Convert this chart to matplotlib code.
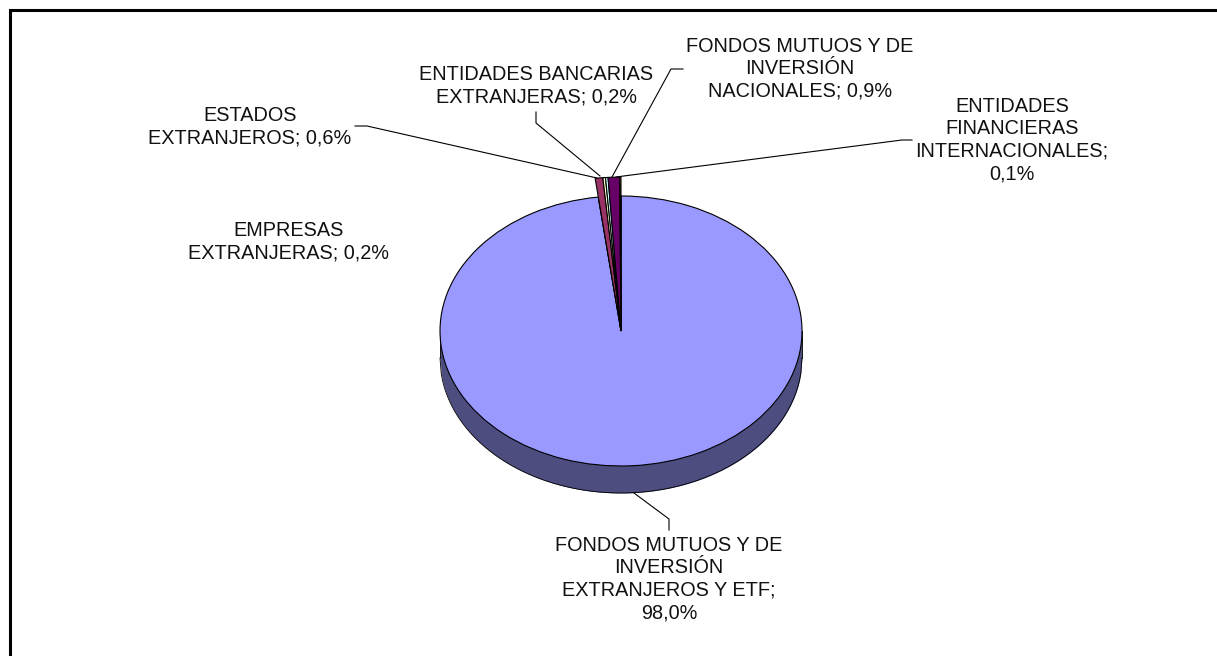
import numpy as np
import matplotlib.pyplot as plt

W, H = 1217, 656

# Data
values = [98.0, 0.6, 0.2, 0.2, 0.9, 0.1]
colors = ['#9999FF', '#993366', '#FFFFCC', '#CCFFFF', '#660066', '#FF8080']
side_color = '#4D4D80'
labels = [
    'FONDOS MUTUOS Y DE\nINVERSIÓN\nEXTRANJEROS Y ETF;\n98,0%',
    'ESTADOS\nEXTRANJEROS; 0,6%',
    'EMPRESAS\nEXTRANJERAS; 0,2%',
    'ENTIDADES BANCARIAS\nEXTRANJERAS; 0,2%',
    'FONDOS MUTUOS Y DE\nINVERSIÓN\nNACIONALES; 0,9%',
    'ENTIDADES\nFINANCIERAS\nINTERNACIONALES;\n0,1%',
]
label_pos = [(669, 579), (250, 127), (289, 242), (536, 86), (800, 69), (1012, 140)]
leaders = [
    [(634, 493), (669, 519), (669, 530)],
    [(355, 126), (367, 126), (597, 178)],
    None,
    [(536, 112), (536, 123), (600, 176)],
    [(683, 69), (671, 69), (612, 177)],
    [(912, 140), (902, 140), (616, 177)],
]

plt.rcParams['font.family'] = ['Liberation Sans', 'DejaVu Sans']

fig = plt.figure(figsize=(W / 100, H / 100), dpi=100, facecolor='white')

# Pie geometry in pixels
cx, cy, rx, ry, depth = 621, 331, 181, 135, 27
ax = fig.add_axes([(cx - 1.25 * rx) / W, 1 - (cy + 1.25 * ry) / H, 2.5 * rx / W, 2.5 * ry / H])
edge = {'edgecolor': 'black', 'linewidth': 0.8}
drop = depth / ry

# Top face
ax.pie(values, colors=colors, startangle=90, counterclock=False, wedgeprops=edge)

# Thin slices stand above the disc
small, _ = ax.pie(values, colors=colors, startangle=90, counterclock=False,
                  radius=1.14, wedgeprops=edge)
small[0].set_visible(False)

# Side of the disc
xs = np.linspace(-1, 1, 300)
low = -drop - np.sqrt(1 - xs ** 2)
ax.fill_between(xs, low, 0, color=side_color, linewidth=0, zorder=0.5)
ax.plot(xs, low, color='black', linewidth=0.6, zorder=0.6)
ax.plot([-1, -1], [-drop, 0], color='black', linewidth=0.6, zorder=0.6)
ax.plot([1, 1], [-drop, 0], color='black', linewidth=0.6, zorder=0.6)

ax.set_aspect('auto')
ax.set_xlim(-1.25, 1.25)
ax.set_ylim(-1.25, 1.25)

# Overlay in pixel coordinates for frame, labels and leader lines
over = fig.add_axes([0, 0, 1, 1], facecolor='none')
over.set_xlim(0, W)
over.set_ylim(H, 0)
over.axis('off')

over.plot([10, 10, W], [H, 10, 10], color='black', linewidth=2.2, solid_joinstyle='miter')

for text, (x, y) in zip(labels, label_pos):
    over.text(x, y, text, ha='center', va='center', fontsize=14.3,
              linespacing=1.23, color='#111111')

for line in leaders:
    if line:
        over.plot([p[0] for p in line], [p[1] for p in line], color='black', linewidth=0.8)

fig.savefig('out.png', dpi=100)
